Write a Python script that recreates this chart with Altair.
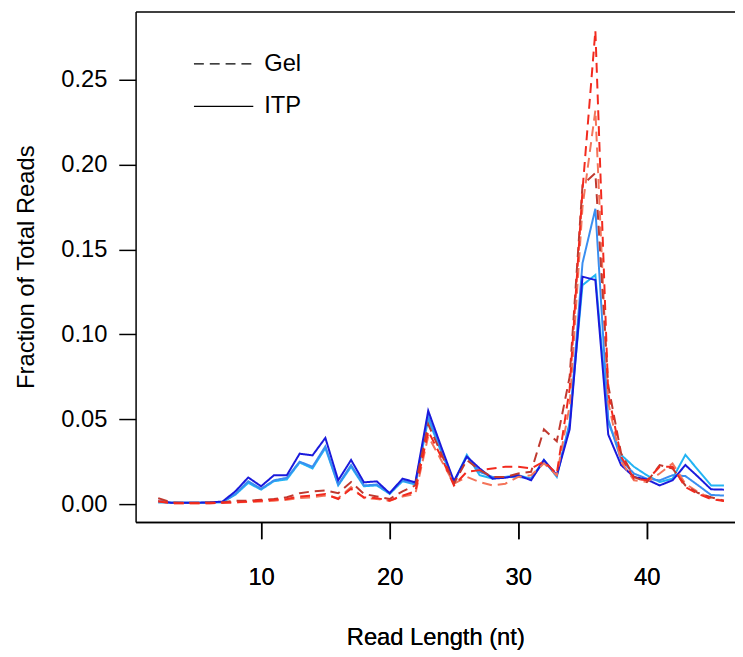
import altair as alt
import pandas as pd

lengths = list(range(2, 47))

itp_dark = [0.002, 0.0008, 0.0008, 0.0008, 0.001, 0.0015, 0.0075, 0.0157, 0.0105,
            0.017, 0.017, 0.0297, 0.0287, 0.039, 0.014, 0.026, 0.0128, 0.0134, 0.0064,
            0.015, 0.0128, 0.055, 0.034, 0.0135, 0.028, 0.021, 0.015, 0.0155, 0.017,
            0.014, 0.026, 0.017, 0.044, 0.134, 0.132, 0.041, 0.023, 0.016, 0.0145,
            0.011, 0.014, 0.023, 0.016, 0.0087, 0.0085]
itp_mid = [0.0015, 0.0008, 0.0008, 0.0008, 0.0008, 0.0012, 0.006, 0.0135, 0.009,
           0.014, 0.0155, 0.025, 0.022, 0.034, 0.0115, 0.023, 0.011, 0.0115, 0.0065,
           0.014, 0.012, 0.052, 0.032, 0.013, 0.028, 0.019, 0.016, 0.016, 0.016,
           0.015, 0.025, 0.017, 0.047, 0.142, 0.174, 0.05, 0.026, 0.018, 0.015,
           0.014, 0.017, 0.0165, 0.011, 0.0054, 0.005]
itp_light = [0.001, 0.0008, 0.0008, 0.0008, 0.0008, 0.0012, 0.0055, 0.0125, 0.0085,
             0.0135, 0.0145, 0.0245, 0.021, 0.033, 0.011, 0.022, 0.0105, 0.011, 0.006,
             0.0135, 0.0115, 0.05, 0.031, 0.013, 0.029, 0.017, 0.015, 0.016, 0.017,
             0.015, 0.026, 0.016, 0.048, 0.129, 0.135, 0.048, 0.029, 0.022, 0.017,
             0.013, 0.015, 0.029, 0.02, 0.011, 0.011]
gel_dark = [0.0035, 0.001, 0.0008, 0.0008, 0.001, 0.001, 0.002, 0.002, 0.0025,
            0.003, 0.004, 0.0064, 0.0075, 0.008, 0.0064, 0.013, 0.006, 0.0045, 0.003,
            0.0075, 0.011, 0.047, 0.03, 0.012, 0.026, 0.02, 0.016, 0.016, 0.018,
            0.019, 0.044, 0.037, 0.075, 0.188, 0.195, 0.07, 0.03, 0.016, 0.013,
            0.023, 0.021, 0.011, 0.0065, 0.004, 0.002]
gel_red = [0.0015, 0.0005, 0.0005, 0.0005, 0.0005, 0.0008, 0.001, 0.0015, 0.002,
           0.0025, 0.003, 0.0045, 0.005, 0.006, 0.003, 0.009, 0.004, 0.0035, 0.002,
           0.005, 0.0075, 0.043, 0.028, 0.011, 0.019, 0.02, 0.021, 0.022, 0.022,
           0.021, 0.025, 0.018, 0.068, 0.185, 0.279, 0.065, 0.028, 0.015, 0.014,
           0.022, 0.022, 0.01, 0.006, 0.003, 0.0018]
gel_salmon = [0.002, 0.0005, 0.0005, 0.0005, 0.0005, 0.0008, 0.001, 0.0012, 0.0015,
              0.002, 0.0025, 0.0035, 0.004, 0.005, 0.0035, 0.01, 0.0035, 0.003, 0.002,
              0.0045, 0.006, 0.04, 0.026, 0.012, 0.016, 0.013, 0.011, 0.012, 0.016,
              0.017, 0.024, 0.017, 0.058, 0.175, 0.232, 0.06, 0.025, 0.014, 0.013,
              0.018, 0.024, 0.012, 0.007, 0.0035, 0.002]

series = [
    ("ITP 1", "ITP", itp_light),
    ("ITP 2", "ITP", itp_mid),
    ("ITP 3", "ITP", itp_dark),
    ("Gel 1", "Gel", gel_salmon),
    ("Gel 2", "Gel", gel_dark),
    ("Gel 3", "Gel", gel_red),
]
sample_names = [s[0] for s in series]
sample_colors = ["#22b4f4", "#3a8ef0", "#1a1adc", "#f4745a", "#c0392f", "#f22a1e"]

rows = []
for name, method, vals in series:
    for x, v in zip(lengths, vals):
        rows.append({"length": x, "fraction": v, "sample": name, "method": method})
df = pd.DataFrame(rows)

FONT = "Liberation Sans"

xscale = alt.Scale(domain=[0.24, 46.86], nice=False, zero=False)
yscale = alt.Scale(domain=[-0.0105, 0.2902], nice=False, zero=False)

x_axis = alt.Axis(orient="bottom", values=[10, 20, 30, 40], format="d", title="Read Length (nt)",
                  grid=False, domain=True, domainColor="black", domainWidth=1.5,
                  tickSize=17, tickColor="black", tickWidth=1.5,
                  labelPadding=27, titlePadding=37)
y_axis = alt.Axis(orient="left", values=[0, 0.05, 0.10, 0.15, 0.20, 0.25], format=".2f",
                  title="Fraction of Total Reads", grid=False, domain=True,
                  domainColor="black", domainWidth=1.5, tickSize=17,
                  tickColor="black", tickWidth=1.5, labelPadding=12, titlePadding=23)

color = alt.Color("sample:N", scale=alt.Scale(domain=sample_names, range=sample_colors),
                  legend=None)
dash = alt.StrokeDash("method:N",
                      scale=alt.Scale(domain=["Gel", "ITP"], range=[[10, 6], [1, 0]]),
                      legend=alt.Legend(title=None, orient="none", legendX=58, legendY=22,
                                        symbolType="stroke", symbolSize=3600,
                                        symbolStrokeColor="black", symbolStrokeWidth=1.3,
                                        labelFontSize=24, labelFont=FONT, labelColor="black",
                                        labelOffset=10, rowPadding=0, padding=0))

base = alt.Chart(df)

itp_layer = base.transform_filter(alt.datum.method == "ITP").mark_line(strokeWidth=2).encode(
    x=alt.X("length:Q", scale=xscale, axis=x_axis),
    y=alt.Y("fraction:Q", scale=yscale, axis=y_axis),
    color=color, strokeDash=dash, detail="sample:N",
)
gel_layer = base.transform_filter(alt.datum.method == "Gel").mark_line(strokeWidth=2).encode(
    x=alt.X("length:Q", scale=xscale, axis=x_axis),
    y=alt.Y("fraction:Q", scale=yscale, axis=y_axis),
    color=color, strokeDash=dash, detail="sample:N",
)
top_layer = base.mark_line(opacity=0).encode(
    x=alt.X("length:Q", scale=xscale,
            axis=alt.Axis(orient="top", labels=False, ticks=False, title=None, grid=False,
                          domain=True, domainColor="black", domainWidth=1.5,
                          minExtent=0, maxExtent=0)),
    y=alt.Y("fraction:Q", scale=yscale, axis=y_axis),
    detail="sample:N",
)

chart = alt.layer(itp_layer, gel_layer, top_layer).resolve_axis(x="independent").properties(
    width=606, height=516,
    autosize=alt.AutoSizeParams(type="none"),
    padding={"left": 129, "top": 0, "right": 0, "bottom": 132},
).configure_view(stroke=None).configure_axis(
    labelFont=FONT, titleFont=FONT, labelFontSize=24, titleFontSize=24,
    labelColor="black", titleColor="black", titleFontWeight="normal",
)

chart.save("out.html", embed_options={"renderer": "svg", "actions": False})
